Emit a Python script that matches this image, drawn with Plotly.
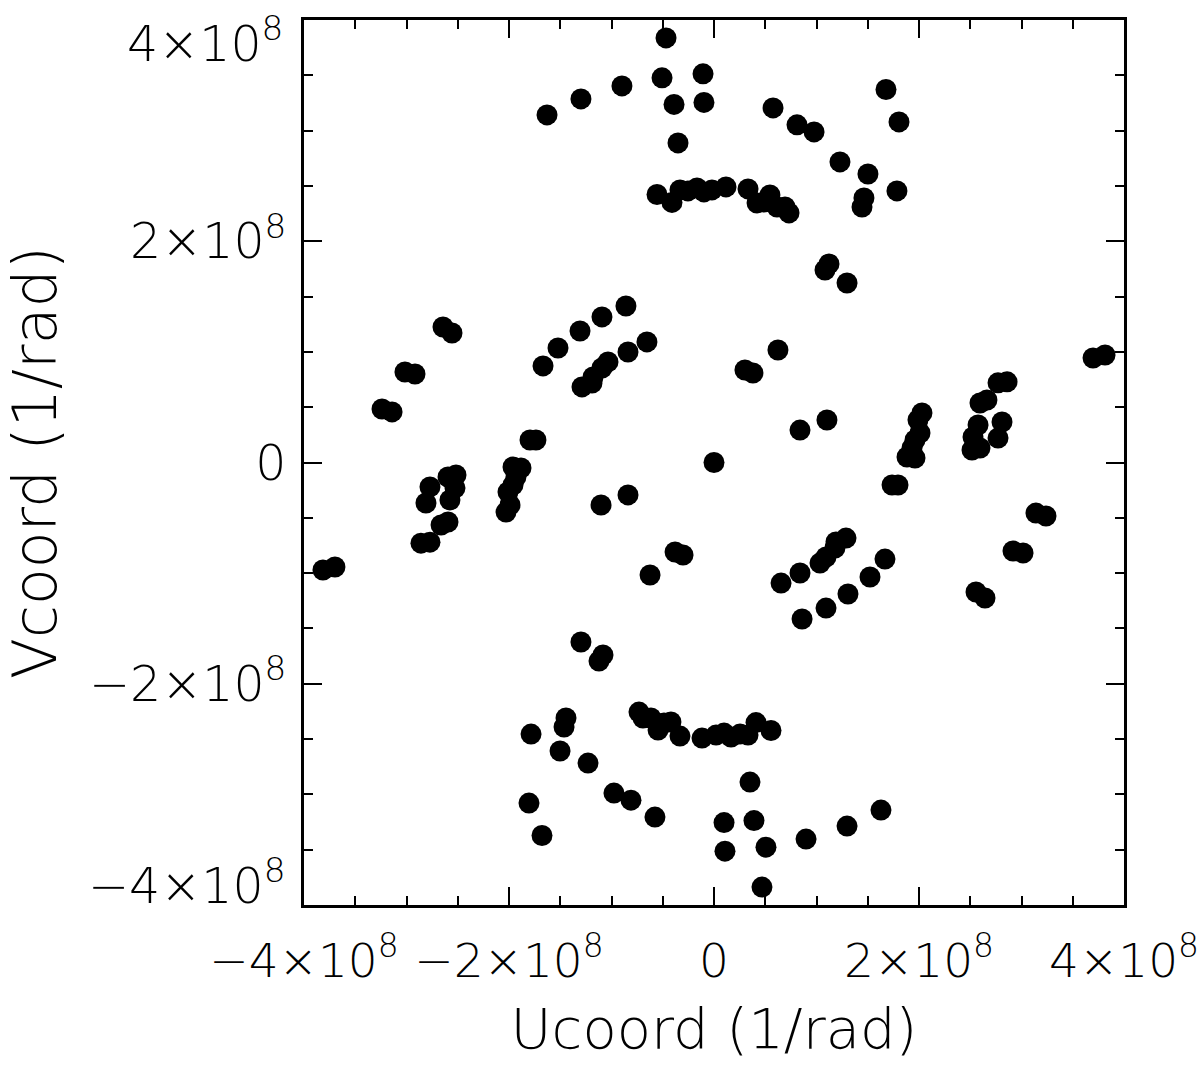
import plotly.graph_objects as go

# Half of the (u, v) coverage, in units of 1e8 rad^-1 (the other half is the conjugate (-u, -v))
u_half = [-1.629, -1.298, -0.898, -0.468, -0.507, -0.107, -0.390, -0.098, -0.351, 0.576,
          0.810, 0.976, 1.229, 1.678, 1.805, 1.502, 1.785, 1.463, 1.444,
          -0.556, -0.410, -0.332, -0.254, -0.166, -0.098, -0.020, 0.117, 0.332, 0.420,
          0.488, 0.546, 0.615, 0.693, 0.732,
          1.083, 1.122, 1.298,
          -1.307, -1.093, -0.859, -0.654, -0.839, -1.034, -1.093, -1.180, -1.288, -1.190,
          -1.668, -1.522, -2.644, -2.556, -3.015, -2.917, -3.239, -3.141,
          0.624, 0.302, 0.380, 0.839, 1.102,
          3.698, 3.815,
          2.859, 2.771, 2.663, 2.595, 2.810, 2.771, 2.576, 2.527, 2.595, 2.517,
          2.029, 1.990, 2.010, 1.961, 1.932, 1.883, 1.961,
          -1.795, -1.737]
v_half = [3.142, 3.287, 3.404, 3.838, 3.477, 3.513, 3.237, 3.255, 2.889, 3.205,
          3.052, 2.988, 2.717, 3.372, 3.079, 2.608, 2.455, 2.391, 2.310,
          2.423, 2.351, 2.464, 2.455, 2.482, 2.446, 2.464, 2.491, 2.473, 2.346,
          2.355, 2.419, 2.310, 2.310, 2.256,
          1.740, 1.795, 1.623,
          1.189, 1.316, 1.415, 1.090, 0.999, 0.909, 0.854, 0.773, 0.683, 0.719,
          0.873, 1.035, 1.225, 1.171, 0.818, 0.800, 0.484, 0.457,
          1.017, 0.836, 0.809, 0.293, 0.384,
          0.945, 0.972,
          0.729, 0.720, 0.565, 0.538, 0.366, 0.221, 0.339, 0.231, 0.131, 0.113,
          0.448, 0.384, 0.267, 0.203, 0.131, 0.050, 0.041,
          0.203, 0.203]
u_zero = [0.0]
v_zero = [0.0]
unit = 1e8

tick_vals = [-4e8, -2e8, 0, 2e8, 4e8]
tick_text = ["\u22124\u00d710<sup>8</sup>", "\u22122\u00d710<sup>8</sup>", "0",
             "2\u00d710<sup>8</sup>", "4\u00d710<sup>8</sup>"]
# y axis: the end labels are drawn pulled inside the frame (as in the original)
y_tick_text = ["", tick_text[1], tick_text[2], tick_text[3], ""]

u_all = [a * unit for a in u_half] + [-a * unit for a in u_half] + [a * unit for a in u_zero]
v_all = [b * unit for b in v_half] + [-b * unit for b in v_half] + [b * unit for b in v_zero]

FONT = "DejaVu Sans"
TICKFONT = dict(family=FONT, size=49, color="black", weight=200)
XTICKFONT = dict(family=FONT, size=47, color="black", weight=200)

fig = go.Figure()
fig.add_trace(go.Scatter(
    x=u_all, y=v_all, mode="markers",
    marker=dict(size=21, color="black", line=dict(width=0)),
    showlegend=False, hoverinfo="x+y",
))

axis_common = dict(
    range=[-4e8, 4e8],
    automargin=False,
    showgrid=False, zeroline=False,
    showline=True, linecolor="black", linewidth=2.5, mirror="ticks",
    ticks="inside", ticklen=18, tickwidth=2, tickcolor="black",
    tickvals=tick_vals,
    ticklabeloverflow="allow",
    minor=dict(ticks="inside", ticklen=9, tickwidth=2, tickcolor="black", dtick=0.5e8,
               tick0=0, showgrid=False),
)

fig.update_xaxes(**axis_common, ticktext=tick_text, ticklabelstandoff=13, tickfont=XTICKFONT,
                 title=dict(text="Ucoord (1/rad)", standoff=22,
                            font=dict(family=FONT, size=56, color="black", weight=200)))
fig.update_yaxes(**axis_common, ticktext=y_tick_text, ticklabelstandoff=5, tickfont=TICKFONT,
                 title=dict(text="Vcoord (1/rad)", standoff=60,
                            font=dict(family=FONT, size=60, color="black", weight=200)))

# end labels of the y axis, pulled inside the frame
fig.add_annotation(x=0, xref="paper", xanchor="right", xshift=-19,
                   y=tick_vals[4], yref="y", yanchor="top", yshift=14,
                   text=tick_text[4], showarrow=False, font=TICKFONT)
fig.add_annotation(x=0, xref="paper", xanchor="right", xshift=-17,
                   y=tick_vals[0], yref="y", yanchor="bottom", yshift=-12,
                   text=tick_text[0], showarrow=False, font=TICKFONT)

fig.update_layout(
    width=1200, height=1073,
    margin=dict(l=304, r=76, t=20, b=168),
    paper_bgcolor="white", plot_bgcolor="white",
    font=dict(family=FONT, color="black"),
)

fig.write_html("out.html", config={"displayModeBar": False},
               post_script="document.body.style.margin='0px';")
